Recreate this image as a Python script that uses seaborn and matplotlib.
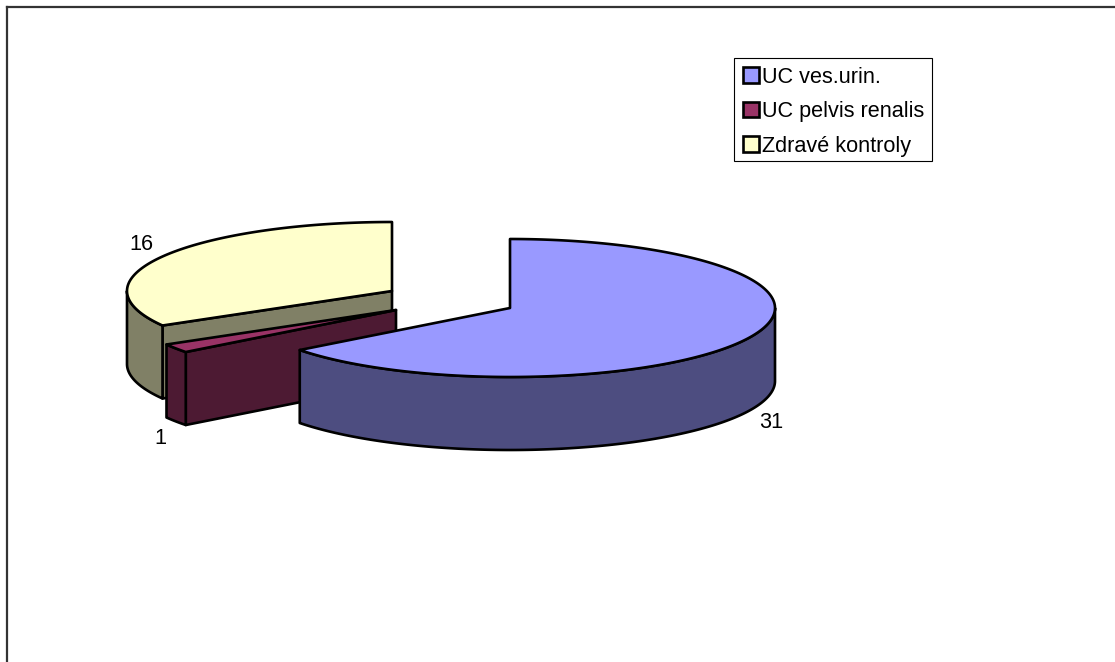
import numpy as np
import matplotlib
matplotlib.use("Agg")
import matplotlib.pyplot as plt
from matplotlib.patches import Patch, Rectangle
import seaborn as sns

# Patient counts per group
categories = ["UC ves.urin.", "UC pelvis renalis", "Zdravé kontroly"]
counts = [31, 1, 16]
top_colors = ["#9999FF", "#993366", "#FFFFCC"]

# Layout of the exploded pie, in canvas pixels
centers = [(510, 308), (396, 310), (392, 291)]
label_positions = [(771, 422), (160, 438), (141, 245)]
rx, ry, depth = 265, 69, 73
W, H = 1115, 662
LW = 1.9

sns.set_theme(style="white")
plt.rcParams["font.family"] = ["Liberation Sans", "DejaVu Sans"]

fig = plt.figure(figsize=(W / 100, H / 100), dpi=100, facecolor="white")
frame_x, frame_y = 7, 7
ax = fig.add_axes([frame_x / W, 0, 1 - frame_x / W, 1 - frame_y / H])
ax.set_xlim(frame_x, W)
ax.set_ylim(H, frame_y)
ax.set_xticks([])
ax.set_yticks([])
sns.despine(ax=ax, top=False, left=False, right=True, bottom=True)
for side in ("top", "left"):
    ax.spines[side].set_linewidth(1.6)
    ax.spines[side].set_color("#333333")

palette = sns.color_palette(top_colors)


def rim(center, a0, a1):
    """Points on the elliptical rim; angles run clockwise from 12 o'clock."""
    t = np.radians(np.linspace(a0, a1, int(abs(a1 - a0)) * 2 + 3))
    return center[0] + rx * np.sin(t), center[1] - ry * np.cos(t)


def draw_poly(xs, ys, color, z):
    ax.fill(xs, ys, facecolor=color, edgecolor="black", linewidth=LW,
            joinstyle="round", zorder=z)


def draw_slice(center, a0, a1, color, z, show_cut):
    dark = tuple(c * 0.5 for c in color)
    cx, cy = center

    # Wall along the starting radius, for slices that turn it to the viewer
    if show_cut:
        ex, ey = rim(center, a0, a0)
        draw_poly([cx, ex[0], ex[0], cx],
                  [cy, ey[0], ey[0] + depth, cy + depth], dark, z)

    # Outer wall, only where the rim faces the viewer
    w0, w1 = max(a0, 90), min(a1, 270)
    if w1 > w0:
        x, y = rim(center, w0, w1)
        draw_poly(np.r_[x, x[::-1]], np.r_[y, y[::-1] + depth], dark, z)

    # Top face
    x, y = rim(center, a0, a1)
    draw_poly(np.r_[cx, x], np.r_[cy, y], color, z + 0.5)


edges = np.r_[0, np.cumsum(counts)] / np.sum(counts) * 360
for depth_order, i in enumerate((2, 1, 0)):
    draw_slice(centers[i], edges[i], edges[i + 1], palette[i],
               2 + depth_order, show_cut=i != 0)

for value, (lx, ly) in zip(counts, label_positions):
    ax.text(lx, ly, str(value), fontsize=15.6, ha="center", va="center",
            color="black", zorder=10)

# Legend box drawn separately so its height can be tighter than the entries' padding
ax.add_patch(Rectangle((734, 58), 198, 103, facecolor="white", edgecolor="black",
                       linewidth=0.8, zorder=19))
handles = [Patch(facecolor=c, edgecolor="black", linewidth=LW) for c in palette]
legend = ax.legend(
    handles, categories, loc="upper left",
    bbox_to_anchor=((734 - frame_x) / (W - frame_x), 1 - (58 - frame_y) / (H - frame_y)),
    fontsize=15.6, frameon=False, handlelength=0.75, handleheight=0.72,
    handletextpad=0.12, labelspacing=0.62, borderpad=0.4, borderaxespad=0,
    labelcolor="black",
)
legend.set_zorder(20)

fig.savefig("out.png", dpi=100, facecolor="white")
